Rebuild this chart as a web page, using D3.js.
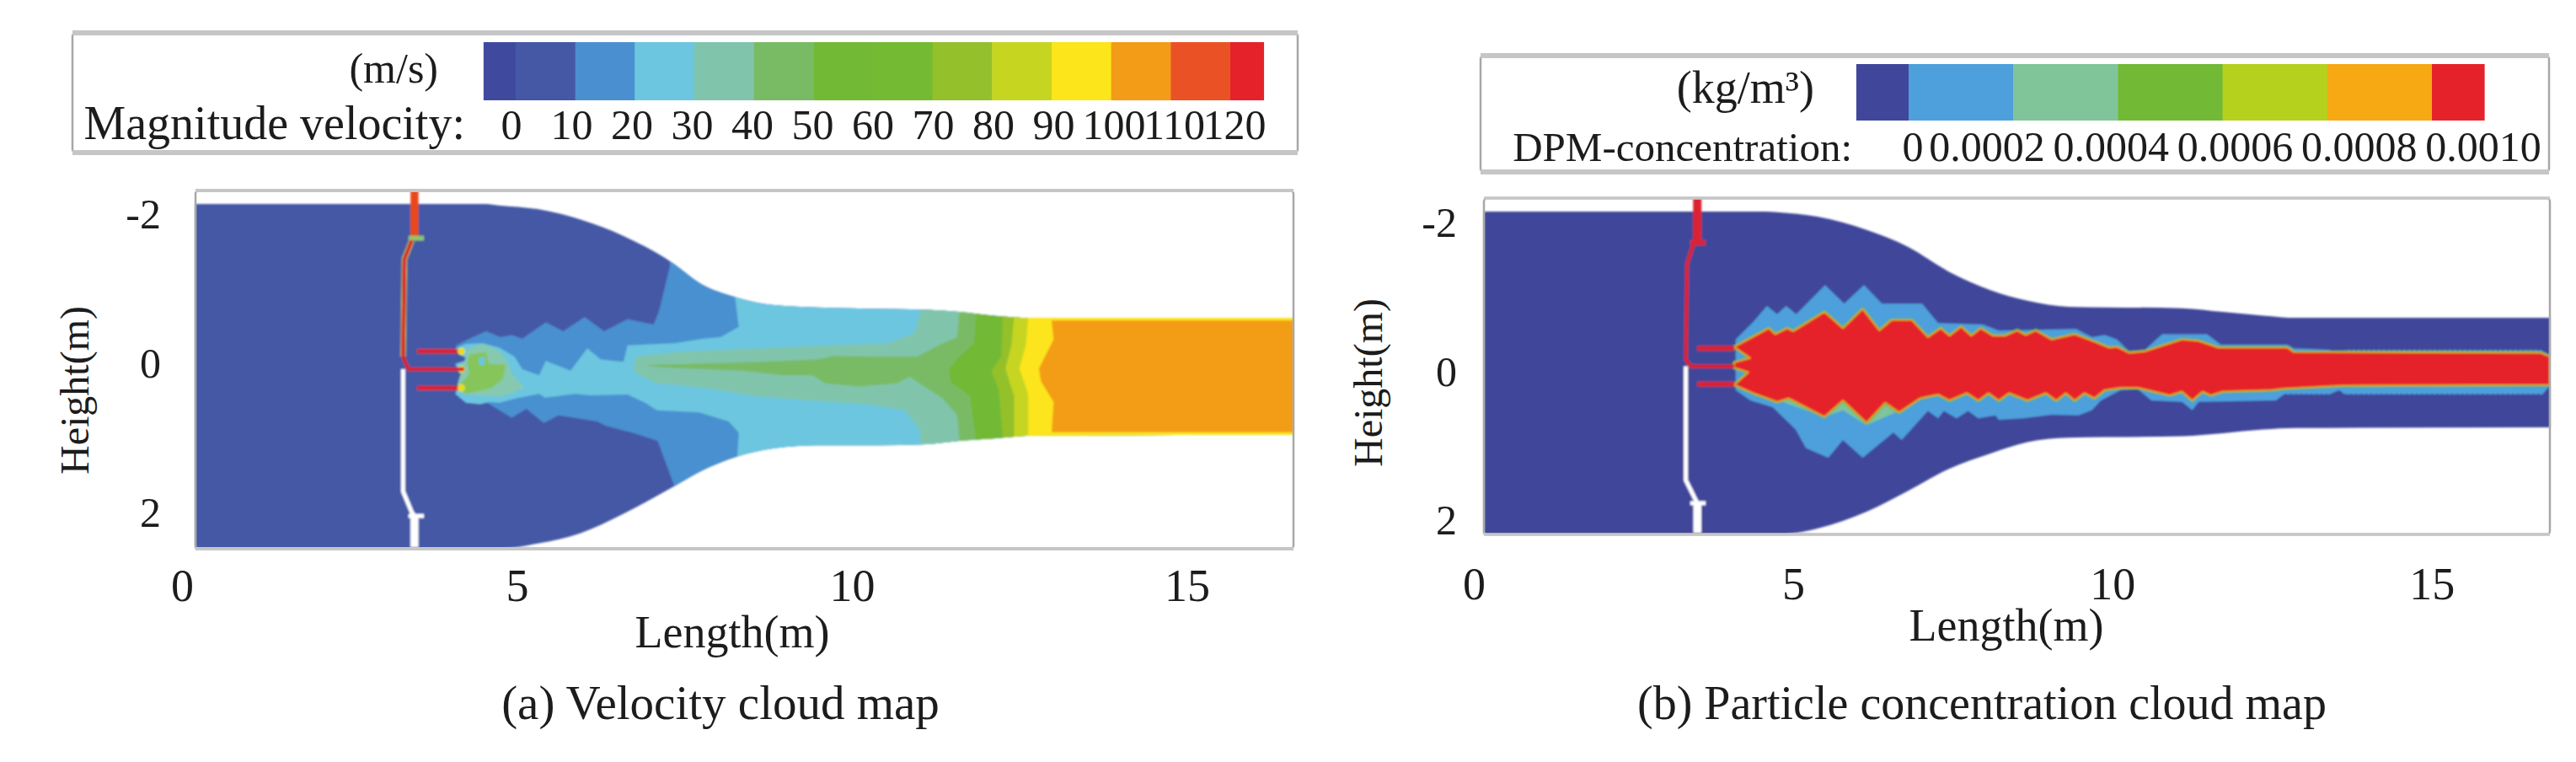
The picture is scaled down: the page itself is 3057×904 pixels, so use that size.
<!DOCTYPE html>
<html><head><meta charset="utf-8">
<script src="https://cdn.jsdelivr.net/npm/d3@7"></script>
<style>html,body{margin:0;background:#fff}svg{display:block}text{font-family:"Liberation Serif",serif;fill:#1c1c1c}</style>
</head><body><svg id="c" width="3057" height="904"></svg>
<script>
// ---------- legend data ----------
const speedLabels=[0,10,20,30,40,50,60,70,80,90,100,110,120];
const speedEdges=[-5.4,0,10,20,30,40,50,60,70,80,90,100,110,120,125.6];
const speedColors=["#3f4a9f","#4558a6","#4a90d0","#6cc6e0","#80c5ab","#79bb65","#72b936","#75ba33","#94c02c","#c6d520","#fce51a","#f39c17","#ea5225","#e5222a"];
const concLabels=["0","0.0002","0.0004","0.0006","0.0008","0.0010"];
const concLabelValues=[0,0.0002,0.0004,0.0006,0.0008,0.001];
const concEdges=[-0.0001,0,0.0002,0.0004,0.0006,0.0008,0.001,0.0011];
const concColors=["#40479a","#4da0db","#80c49a","#72b936","#b5d11e","#f6a913","#e5222a"];
const xTicks=[0,5,10,15], yTicks=[-2,0,2];

// ---------- velocity panel: duct outline (m) ----------
const wallXA=[0.20,4.53,4.73,5.31,5.95,6.59,7.35,7.72,8.29,8.84,9.47,10.42,11.03,11.60,12.10,12.67,16.59];
const wallTopA=[-2.14,-2.14,-2.12,-2.07,-1.93,-1.71,-1.33,-1.08,-0.88,-0.78,-0.75,-0.73,-0.72,-0.69,-0.64,-0.61,-0.61];
const wallBotA=[2.49,2.49,2.49,2.42,2.28,2.02,1.65,1.46,1.25,1.14,1.10,1.10,1.09,1.04,1.01,0.97,0.96];
// velocity isolines, each read top to bottom; the region right of it is faster
const iso10=[[7.35,-2.4],[7.28,-1.29],[7.12,-.70],[7.04,-.52],[6.65,-.59],[6.30,-.43],[6.01,-.62],[5.69,-.43],[5.43,-.55],[5.08,-.33],[4.92,-.38],[4.75,-.35],[4.54,-.43],[4.34,-.35],[4.09,-.24],[4.14,-.12],[4.29,-.05],[4.08,.01],[4.14,.12],[4.26,.19],[4.14,.27],[4.15,.47],[4.28,.52],[4.54,.52],[4.92,.73],[5.14,.61],[5.40,.80],[5.62,.70],[5.85,.73],[6.20,.78],[6.33,.84],[6.72,.93],[7.10,1.04],[7.35,1.65],[7.40,2.6]];
const iso20=[[8.25,-2.4],[8.25,-.92],[8.31,-.49],[8.04,-.35],[7.79,-.33],[7.35,-.27],[6.65,-.24],[6.59,-.02],[6.25,-.05],[6.05,-.20],[5.80,.10],[5.43,-.03],[5.33,.16],[5.08,.08],[4.96,-.09],[4.74,-.21],[4.49,-.27],[4.24,-.26],[4.08,-.20],[4.14,-.12],[4.29,-.05],[4.08,.01],[4.14,.12],[4.26,.19],[4.14,.27],[4.08,.41],[4.24,.53],[4.45,.55],[4.58,.52],[4.74,.53],[4.99,.47],[5.33,.41],[5.42,.46],[5.87,.41],[6.09,.43],[6.65,.42],[6.91,.53],[7.09,.63],[7.72,.66],[8.16,.78],[8.31,.93],[8.29,1.25],[8.29,2.6]];
const blobTeal=[[4.28,-.21],[4.49,-.26],[4.74,-.16],[4.87,-.01],[4.92,.14],[5.11,.33],[4.79,.44],[4.49,.44],[4.20,.41],[4.11,.29]];
const blobGreen=[[4.29,-.12],[4.54,-.15],[4.58,.01],[4.83,.02],[4.79,.21],[4.62,.33],[4.24,.41],[4.11,.33],[4.29,.14],[4.26,-.01]];
const blobHole=[[4.43,-.08],[4.52,-.08],[4.52,.02],[4.43,.02]];
const iso30=[[11.03,-2.4],[11.03,-.72],[10.94,-.41],[10.54,-.27],[9.60,-.24],[8.65,-.20],[7.35,-.15],[6.77,-.09],[6.74,.07],[6.78,.14],[7.09,.27],[7.85,.33],[8.53,.44],[9.41,.50],[10.23,.55],[10.79,.63],[11.01,.89],[11.03,1.08],[11.03,2.6]];
const iso40=[[11.60,-2.4],[11.60,-.67],[11.57,-.35],[11.35,-.27],[10.97,-.09],[10.42,-.09],[9.72,-.10],[9.47,-.05],[8.35,-.01],[7.09,.02],[6.91,.03],[7.09,.05],[8.35,.10],[8.97,.16],[9.41,.16],[9.60,.27],[10.10,.31],[10.67,.27],[10.86,.18],[11.35,.47],[11.57,.70],[11.60,1.03],[11.60,2.6]];
const iso50=[[11.85,-2.4],[11.85,-.63],[11.82,-.27],[11.60,-.09],[11.45,.08],[11.47,.25],[11.76,.44],[11.85,1.01],[11.85,2.6]];
const iso70=[[12.25,-2.4],[12.25,-.63],[12.23,-.09],[12.08,.10],[12.19,.36],[12.25,.98],[12.25,2.6]];
const iso80=[[12.42,-2.4],[12.42,-.62],[12.38,-.24],[12.29,.07],[12.42,.44],[12.42,.97],[12.42,2.6]];
const iso90=[[12.63,-2.4],[12.63,-.61],[12.60,-.27],[12.50,.07],[12.63,.41],[12.63,.96],[12.63,2.6]];
const iso100=[[12.98,-.575],[13.01,-.32],[12.79,.07],[12.82,.24],[13.01,.52],[12.98,.925],[16.59,.925],[16.59,-.575]];
const feedA=[[3.43,-1.65],[3.32,-1.40],[3.30,-.09],[3.38,.08],[4.21,.08]];
const nozzleYA=[-.16,.33], nozzleXA=[3.51,4.21];
const stackTopA=[[3.47,-2.32],[3.47,-1.68]];
const flangeTopA=[[3.38,-1.68],[3.61,-1.68]];
const returnA=[[3.30,.08],[3.30,1.72],[3.43,2.00],[3.47,2.05]];
const stackBotA=[[3.47,2.05],[3.47,2.47]];
const flangeBotA=[[3.38,2.05],[3.61,2.05]];

// ---------- concentration panel ----------
const wallXB=[.16,4.55,4.75,5.38,6.16,6.79,7.44,8.10,8.67,9.31,11.09,11.73,12.36,12.88,16.85];
const wallTopB=[-2.15,-2.15,-2.14,-2.08,-1.90,-1.68,-1.34,-1.09,-.95,-.87,-.85,-.80,-.75,-.72,-.72];
const wallBotB=[2.19,2.19,2.19,2.11,1.88,1.61,1.31,1.10,.95,.89,.87,.83,.78,.76,.75];
const plumeBlue=[[4.10,-.43],[4.37,-.66],[4.59,-.88],[4.75,-.77],[4.89,-.88],[5.05,-.77],[5.50,-1.16],[5.80,-.91],[6.11,-1.16],[6.39,-.91],[7.02,-.91],[7.27,-.65],[7.97,-.63],[8.22,-.55],[9.43,-.57],[9.68,-.46],[9.88,-.49],[10.07,-.43],[10.26,-.27],[10.51,-.29],[10.78,-.50],[11.48,-.50],[11.70,-.36],[12.74,-.36],[12.84,-.31],[13.39,-.29],[13.55,-.24],[13.64,-.29],[16.70,-.29],[16.85,-.22],[16.85,.19],[16.73,.31],[13.64,.31],[13.55,.25],[13.39,.31],[12.68,.31],[12.56,.39],[11.35,.41],[11.25,.52],[11.09,.41],[10.61,.39],[10.40,.24],[10.13,.25],[9.82,.39],[9.68,.52],[9.47,.59],[9.05,.58],[8.60,.63],[8.22,.65],[8.17,.59],[7.90,.63],[7.74,.53],[7.56,.63],[7.36,.53],[7.27,.63],[7.11,.53],[6.70,.92],[6.57,.82],[6.09,1.16],[5.78,.92],[5.55,1.16],[5.20,1.03],[5.04,.78],[4.68,.48],[4.33,.39],[4.10,.25]];
const plumeTeal=[[4.75,.38],[5.49,.61],[5.78,.52],[6.15,.72],[6.6,.55],[7.0,.36]];
const plumeRed=[[4.08,-.33],[4.62,-.58],[4.72,-.50],[4.91,-.58],[5.00,-.54],[5.49,-.80],[5.78,-.58],[6.09,-.84],[6.35,-.55],[6.54,-.69],[6.86,-.69],[7.11,-.46],[7.31,-.58],[7.45,-.48],[7.63,-.60],[7.79,-.48],[7.94,-.58],[8.13,-.48],[8.32,-.48],[8.51,-.55],[8.64,-.49],[8.80,-.55],[9.05,-.43],[9.41,-.50],[9.75,-.39],[9.95,-.32],[10.07,-.33],[10.26,-.25],[10.51,-.27],[11.09,-.43],[11.35,-.41],[11.66,-.32],[12.74,-.32],[12.84,-.26],[16.70,-.25],[16.85,-.20],[16.85,.18],[13.58,.19],[12.68,.23],[12.49,.25],[11.73,.27],[11.54,.32],[11.41,.27],[11.25,.39],[11.09,.27],[10.90,.32],[10.65,.27],[10.40,.22],[10.13,.22],[9.88,.25],[9.72,.36],[9.56,.29],[9.41,.39],[9.27,.29],[9.12,.39],[8.96,.29],[8.67,.39],[8.38,.29],[8.22,.39],[8.06,.29],[7.90,.39],[7.72,.29],[7.45,.39],[7.27,.31],[6.99,.36],[6.66,.55],[6.44,.42],[6.15,.69],[5.78,.39],[5.49,.61],[4.93,.36],[4.75,.41],[4.37,.29],[4.08,.18],[4.30,.01],[4.08,-.05],[4.08,-.12],[4.33,-.18]];
const sawEdges=[[[13.64,-.295],[16.70,-.295]],[[13.64,.315],[16.70,.315]],[[12.70,.315],[13.40,.315]]];
const feedB=[[3.44,-1.71],[3.34,-1.45],[3.32,-.16],[3.40,-.07],[4.08,-.07]];
const nozzleYB=[-.31,.17], nozzleXB=[3.50,4.08];
const stackTopB=[[3.50,-2.33],[3.50,-1.73]];
const flangeTopB=[[3.39,-1.73],[3.63,-1.73]];
const returnB=[[3.32,-.07],[3.32,1.46],[3.47,1.72],[3.50,1.77]];
const stackBotB=[[3.50,1.77],[3.50,2.17]];
const flangeBotB=[[3.39,1.77],[3.63,1.77]];

const svg=d3.select("#c");
const defs=svg.append("defs");
defs.append("filter").attr("id","soft").append("feGaussianBlur").attr("stdDeviation",0.8);

function frame(x0,y0,x1,y1,band){
  svg.append("rect").attr("x",x0).attr("y",y0).attr("width",x1-x0).attr("height",y1-y0).attr("rx",4)
    .attr("fill","none").attr("stroke","#a8a8a8").attr("stroke-width",2.5);
  if(band) [y0,y1].forEach(y=>svg.append("line").attr("x1",x0).attr("x2",x1).attr("y1",y).attr("y2",y)
    .attr("stroke","#c6c6c6").attr("stroke-width",band));
}
function axes(sx,sy,xY,yX){
  svg.append("g").attr("transform",`translate(0,${xY})`)
    .call(d3.axisBottom(sx).tickValues(xTicks).tickSize(0).tickFormat(d=>String(d)))
    .call(g=>g.select(".domain").remove())
    .call(g=>g.selectAll("text").attr("y",0).attr("dy",0).style("font-size","54px").style("font-family",'"Liberation Serif"').attr("fill","#1c1c1c"));
  svg.append("g").attr("transform",`translate(${yX},0)`)
    .call(d3.axisLeft(sy).tickValues(yTicks).tickSize(0).tickPadding(0).tickFormat(d=>String(d)))
    .call(g=>g.select(".domain").remove())
    .call(g=>g.selectAll("text").attr("dy",".33em").style("font-size","50px").style("font-family",'"Liberation Serif"').attr("fill","#1c1c1c"));
}
function label(t,x,y,size,anchor,rot){
  const n=svg.append("text").attr("x",x).attr("y",y).attr("text-anchor",anchor||"middle").style("font-size",size+"px").text(t);
  if(rot) n.attr("transform",`rotate(-90 ${x} ${y})`);
  return n;
}
function pipes(g,line,sx,sy,d,hot){
  const path=(pts,c,w,cap)=>g.append("path").attr("d",line(pts)).attr("fill","none").attr("stroke",c).attr("stroke-width",w).attr("stroke-linecap",cap||"butt").attr("stroke-linejoin","round");
  path(d.ret,"#fff",5); path(d.stackBot,"#fff",9.5); path(d.flangeBot,"#fff",5);
  d.nozY.forEach(y=>path([[d.nozX[0],y],[d.nozX[1],y]],"#dc2330",hot?5.5:6));
  if(hot){
    path(d.feed.slice(0,3),"#a9cf4a",6.5);
    path(d.stackTop,"#e8481f",9.5);
    path(d.flangeTop,"#8fc46a",6);
    [d.nozY[0],d.feed[4][1],d.nozY[1]].forEach(y=>g.append("circle").attr("cx",sx(d.nozX[1]-.04)).attr("cy",sy(y)).attr("r",4.5).attr("fill","#e6dc22"));
  } else {
    path(d.stackTop,"#dc2330",10);
    path(d.flangeTop,"#dc2330",6);
  }
  path(d.feed,"#dc2330",4.5);
}

// ---- legends ----
frame(86,39,1540,181,6);
const sL=d3.scaleLinear().domain([0,120]).range([612,1460]);
svg.append("g").selectAll("rect").data(speedColors).join("rect")
  .attr("x",(d,i)=>sL(speedEdges[i])).attr("width",(d,i)=>sL(speedEdges[i+1])-sL(speedEdges[i])+.5)
  .attr("y",50).attr("height",69).attr("fill",d=>d);
svg.append("g").selectAll("text").data(speedLabels).join("text")
  .attr("x",d=>d3.scaleLinear().domain([0,120]).range([607,1465])(d)).attr("y",165).attr("text-anchor","middle").style("font-size","50px").text(d=>d);
label("(m/s)",520,98,50,"end");
label("Magnitude velocity:",552,165,56,"end");

frame(1757,66,3025,204,6);
const sC=d3.scaleLinear().domain([0,0.001]).range([2265,2886]);
svg.append("g").selectAll("rect").data(concColors).join("rect")
  .attr("x",(d,i)=>sC(concEdges[i])).attr("width",(d,i)=>sC(concEdges[i+1])-sC(concEdges[i])+.5)
  .attr("y",76).attr("height",67).attr("fill",d=>d);
const sCL=d3.scaleLinear().domain([0,0.0002,0.001]).range([2270,2358,2947]);
svg.append("g").selectAll("text").data(concLabelValues).join("text")
  .attr("x",d=>sCL(d)).attr("y",191).attr("text-anchor","middle").style("font-size","50px").text((d,i)=>concLabels[i]);
label("(kg/m³)",2153,122,54,"end");
label("DPM-concentration:",2198,191,49,"end");

// ---- velocity panel ----
const xA=d3.scaleLinear().domain([0,16.59]).range([216,1535]);
const yA=d3.scaleLinear().domain([-2.32,2.49]).range([226,651]);
const lineA=d3.line().x(d=>xA(d[0])).y(d=>yA(d[1]));
const wallA=d3.area().x((d,i)=>xA(d)).y0((d,i)=>yA(wallTopA[i])).y1((d,i)=>yA(wallBotA[i])).curve(d3.curveMonotoneX);
defs.append("clipPath").attr("id","ca").append("path").attr("d",wallA(wallXA));
const gA=svg.append("g").attr("filter","url(#soft)");
gA.append("path").attr("d",wallA(wallXA)).attr("fill","#4558a6");
const fA=gA.append("g").attr("clip-path","url(#ca)");
const cap=(p)=>[...p,[18,p[p.length-1][1]],[18,p[0][1]]];
[[iso10,"#4a90d0"],[iso20,"#6cc6e0"],[iso30,"#80c5ab"],[iso40,"#79bb65"],[iso50,"#72b936"],[iso70,"#94c02c"],[iso80,"#c6d520"],[iso90,"#fce51a"]]
  .forEach(([p,c])=>fA.append("path").attr("d",lineA(cap(p))+"Z").attr("fill",c));
[[blobTeal,"#86c9ae"],[blobGreen,"#86c55a"],[blobHole,"#6cc6e0"],[iso100,"#f39c17"]]
  .forEach(([p,c])=>fA.append("path").attr("d",lineA(p)+"Z").attr("fill",c));
pipes(gA,lineA,xA,yA,{ret:returnA,stackBot:stackBotA,flangeBot:flangeBotA,nozY:nozzleYA,nozX:nozzleXA,feed:feedA,stackTop:stackTopA,flangeTop:flangeTopA},true);
frame(232,226,1535,651,4);
axes(xA,yA,713,191);
label("Length(m)",869,768,54);
label("Height(m)",105,463,48,"middle",true);
label("(a) Velocity cloud map",855,853,57);

// ---- concentration panel ----
const xB=d3.scaleLinear().domain([0,16.85]).range([1749,3026]);
const yB=d3.scaleLinear().domain([-2.33,2.19]).range([235,634]);
const lineB=d3.line().x(d=>xB(d[0])).y(d=>yB(d[1]));
const wallB=d3.area().x(d=>xB(d)).y0((d,i)=>yB(wallTopB[i])).y1((d,i)=>yB(wallBotB[i])).curve(d3.curveMonotoneX);
defs.append("clipPath").attr("id","cb").append("path").attr("d",wallB(wallXB));
const gB=svg.append("g").attr("filter","url(#soft)");
gB.append("path").attr("d",wallB(wallXB)).attr("fill","#40479a");
const fB=gB.append("g").attr("clip-path","url(#cb)");
fB.append("path").attr("d",lineB(plumeBlue)+"Z").attr("fill","#4da0db");
sawEdges.forEach(p=>fB.append("path").attr("d",lineB(p)).attr("fill","none").attr("stroke","#40479a").attr("stroke-width",2.5).attr("stroke-dasharray","3 3"));
fB.append("path").attr("d",lineB(plumeTeal)+"Z").attr("fill","#80c49a");
fB.append("path").attr("d",lineB(plumeRed)+"Z").attr("fill","#5fb64a").attr("stroke","#5fb64a").attr("stroke-width",4).attr("stroke-linejoin","round");
fB.append("path").attr("d",lineB(plumeRed)+"Z").attr("fill","#e5222a").attr("stroke","#e4a41a").attr("stroke-width",1.6).attr("stroke-linejoin","round");
pipes(gB,lineB,xB,yB,{ret:returnB,stackBot:stackBotB,flangeBot:flangeBotB,nozY:nozzleYB,nozX:nozzleXB,feed:feedB,stackTop:stackTopB,flangeTop:flangeTopB},false);
frame(1761,235,3026,634,3.5);
axes(xB,yB,711,1729);
label("Length(m)",2381,760,54);
label("Height(m)",1640,454,48,"middle",true);
label("(b) Particle concentration cloud map",2352,853,56);
</script></body></html>
